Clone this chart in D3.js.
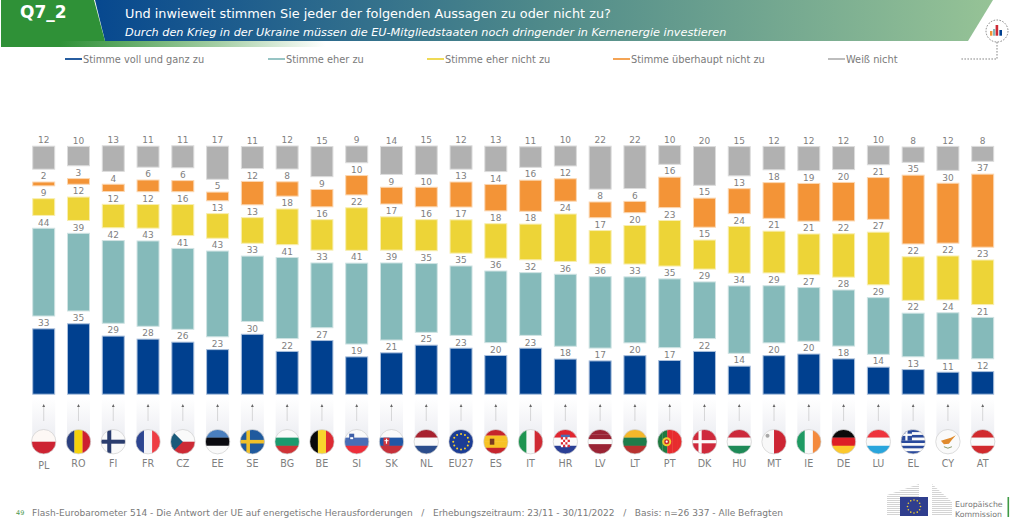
<!DOCTYPE html>
<html lang="de"><head><meta charset="utf-8">
<script src="https://cdn.jsdelivr.net/npm/d3@7/dist/d3.min.js"></script>
<style>
html,body{margin:0;padding:0;background:#fff;overflow:hidden}
svg{display:block}
text{font-family:"DejaVu Sans",Verdana,sans-serif}
</style></head><body><svg id="c" width="1024" height="522"></svg>
<script>
const categories=["PL","RO","FI","FR","CZ","EE","SE","BG","BE","SI","SK","NL","EU27","ES","IT","HR","LV","LT","PT","DK","HU","MT","IE","DE","LU","EL","CY","AT"];
const seriesNames=["Stimme voll und ganz zu","Stimme eher zu","Stimme eher nicht zu","Stimme überhaupt nicht zu","Weiß nicht"];
const seriesColors=["#00408f","#85baba","#edd437","#f39437","#b1b1b1"];
const seriesBorders=["#a9bfdc","#cfe3e3","#f8eeb0","#fbd7b2","#dcdcdc"];
const voll=[32.9,35.4,29.3,27.8,26.3,22.6,30.2,21.7,27.1,19.0,21.0,24.8,23.3,19.7,23.3,17.9,17.0,19.6,17.2,21.7,14.4,19.6,20.4,18.0,13.9,12.7,11.4,11.7];
const eher=[44.0,39.0,41.5,42.8,40.6,43.0,32.9,40.7,32.6,40.6,38.7,34.6,34.9,36.0,31.6,36.2,35.9,33.2,34.6,28.6,33.9,28.8,27.1,28.3,28.6,22.1,23.6,21.0];
const eherNicht=[8.8,12.1,12.1,12.2,15.9,12.7,13.2,18.2,15.6,21.6,17.0,15.9,17.0,17.6,18.2,24.0,17.0,19.6,23.1,14.9,23.6,21.2,20.7,22.0,26.6,22.1,22.3,22.6];
const ueberhaupt=[2.4,3.3,4.1,6.3,6.0,4.8,12.1,7.6,9.1,10.1,8.8,10.2,12.9,13.6,15.9,11.6,8.3,6.1,15.6,14.9,12.9,18.2,19.2,19.6,21.2,34.6,30.2,36.7];
const weissNicht=[11.9,10.1,13.2,10.9,11.4,16.9,11.4,11.9,15.4,8.8,14.4,14.6,12.1,13.1,10.7,10.4,21.8,21.7,9.8,19.7,15.0,12.1,12.4,11.9,9.9,8.1,12.4,7.9];
const title="Und inwieweit stimmen Sie jeder der folgenden Aussagen zu oder nicht zu?";
const subtitle="Durch den Krieg in der Ukraine müssen die EU-Mitgliedstaaten noch dringender in Kernenergie investieren";
const footer="Flash-Eurobarometer 514 - Die Antwort der UE auf energetische Herausforderungen   /   Erhebungszeitraum: 23/11 - 30/11/2022   /   Basis: n=26 337 - Alle Befragten";
const flagDesigns={
PL:["h",["#fdf8f5","#cd2332"]],RO:["v",["#2a3f7e","#f5d20c","#cd2030"]],FI:["h",["#fafafa"]],FR:["v",["#2d4591","#f4f4f8","#ee3d44"]],
CZ:["h",["#fafafa","#cd2a35"]],EE:["h",["#4a7fbf","#0a0a10","#fafafa"]],SE:["h",["#1f5a9e"]],BG:["h",["#fafafa","#1c9a6e","#cf3336"]],
BE:["v",["#0a0a0a","#f8d52d","#dd2a33"]],SI:["h",["#fafafa","#4a6db5","#ee2e3a"]],SK:["h",["#fafafa","#2157a5","#c6303a"]],NL:["h",["#a8222f","#fafafa","#2b4d8c"]],
EU27:["h",["#1c3d95"]],ES:["h",["#c6252c","#f7c325","#f7c325","#c6252c"]],IT:["v",["#1e9450","#f8f8f8","#cf2a33"]],HR:["h",["#e02530","#fafafa","#2a3f95"]],
LV:["h",["#9a2334","#9a2334","#fafafa","#9a2334","#9a2334"]],LT:["h",["#f3b72b","#1e7c4a","#b8322f"]],PT:["v",["#1f7a40","#1f7a40","#e72c2e","#e72c2e","#e72c2e"]],DK:["h",["#cf2a3c"]],
HU:["h",["#cc2a3c","#fafafa","#1e8a57"]],MT:["v",["#f8f8f8","#cd2533"]],IE:["v",["#1e9a62","#fafafa","#f48a3d"]],DE:["h",["#0a0a0a","#dd1f26","#fcc92c"]],
LU:["h",["#ee333d","#fafafa","#29a5dc"]],EL:["h",["#2a4a9c","#fafafa","#2a4a9c","#fafafa","#2a4a9c","#fafafa","#2a4a9c","#fafafa","#2a4a9c"]],CY:["h",["#fafafa"]],AT:["h",["#d12a2e","#fafafa","#d12a2e"]]};

const W=1024,H=522,svg=d3.select("#c");
const defs=svg.append("defs");
const lg=(id,stops,attrs)=>{const g=defs.append("linearGradient").attr("id",id);Object.entries(attrs||{}).forEach(([k,v])=>g.attr(k,v));
 stops.forEach(s=>g.append("stop").attr("offset",s[0]).attr("stop-color",s[1]).attr("stop-opacity",s[2]==null?1:s[2]));};
lg("hdr",[[0,"#07488f"],[0.5,"#4f8a8a"],[1,"#96c396"]]);
lg("strip",[[0,"#2f9137"],[0.2,"#55a45b"],[0.6,"#a5cfa5"],[1,"#ffffff"]]);
lg("col",[[0,"#ffffff"],[1,"#ecedf2"]],{x1:0,y1:0,x2:0,y2:1});

// header
svg.append("polygon").attr("points","95,0 993,0 968,41 105,41").attr("fill","url(#hdr)");
svg.append("polygon").attr("points","1,0 94,0 105,41 105,47 1,47").attr("fill","#2f9137");
svg.append("rect").attr("x",60).attr("y",41).attr("width",265).attr("height",6).attr("fill","url(#strip)");
svg.append("text").attr("x",20).attr("y",18).attr("fill","#fff").attr("font-weight","bold").attr("font-size",17).text("Q7_2");
svg.append("text").attr("x",125).attr("y",18).attr("fill","#fff").attr("font-size",12.85).attr("id","title").text(title);
svg.append("text").attr("x",125).attr("y",36).attr("fill","#fff").attr("font-size",11.25).attr("font-style","italic").attr("id","sub").text(subtitle);

// icon
const ic=svg.append("g");
ic.append("circle").attr("cx",997).attr("cy",31).attr("r",11).attr("fill","#fff").attr("stroke","#555").attr("stroke-width",.7).attr("stroke-dasharray","1.6 1.4");
ic.append("path").attr("d","M997 42V59H961").attr("fill","none").attr("stroke","#555").attr("stroke-width",.7).attr("stroke-dasharray","1.6 1.4");
[[990,31,2.4,4.7,"#f39437"],[993,29,2.2,6.7,"#85baba"],[995.6,25,2.6,10.7,"#cd2a35"],[999.4,30,2.6,5.7,"#00408f"]].forEach(b=>ic.append("rect").attr("x",b[0]).attr("y",b[1]).attr("width",b[2]).attr("height",b[3]).attr("fill",b[4]));

// legend
const legendX=[65,268,427,613,828];
const lgd=svg.append("g").selectAll("g").data(seriesNames).join("g").attr("transform",(d,i)=>`translate(${legendX[i]},59)`);
lgd.append("line").attr("x1",0).attr("x2",17).attr("stroke",(d,i)=>seriesColors[i]).attr("stroke-width",1.7);
lgd.append("text").attr("x",18).attr("y",3.5).attr("font-size",9.8).attr("fill","#7a7a7a").text(d=>d);

// scales
const x=d3.scaleBand().domain(categories).range([26.3,1000.1]).paddingInner(0.339).paddingOuter(0.17);
const base=394.7,unit=2.017,gap=11.83;
const y=d3.scaleLinear().domain([0,100]).range([base,base-100*unit]);
const rows=categories.map((c,i)=>({c,s0:voll[i],s1:eher[i],s2:eherNicht[i],s3:ueberhaupt[i],s4:weissNicht[i]}));
const stack=d3.stack().keys(["s0","s1","s2","s3","s4"])(rows);
const fmt=d3.format(".0f");
const layer=svg.append("g").selectAll("g").data(stack).join("g");
layer.selectAll("rect").data((s,si)=>s.map(d=>({d,si}))).join("rect")
 .attr("x",e=>x(e.d.data.c)+.5).attr("width",x.bandwidth()-1)
 .attr("y",e=>y(e.d[1])-gap*e.si+.5).attr("height",e=>y(e.d[0])-y(e.d[1])-1)
 .attr("fill",e=>seriesColors[e.si]).attr("stroke",e=>seriesBorders[e.si]).attr("stroke-width",1);
layer.selectAll("text").data((s,si)=>s.map(d=>({d,si}))).join("text")
 .attr("x",e=>x(e.d.data.c)+x.bandwidth()/2).attr("y",e=>y(e.d[1])-gap*e.si-2.2)
 .attr("text-anchor","middle").attr("font-size",9).attr("fill","#7f7f7f")
 .text(e=>fmt(e.d[1]-e.d[0]));

// columns, arrows
const cols=svg.append("g").selectAll("g").data(categories).join("g").attr("transform",d=>`translate(${x(d)+x.bandwidth()/2},0)`);
cols.append("rect").attr("x",-x.bandwidth()/2).attr("y",398).attr("width",x.bandwidth()).attr("height",40).attr("fill","url(#col)");
cols.append("line").attr("y1",407.5).attr("y2",420.5).attr("stroke","#8a8a8a").attr("stroke-width",.6).attr("stroke-dasharray","1 1");
cols.append("path").attr("d","M0 404L-1.4 407H1.4Z").attr("fill","#666");

// flags
const R=12.2,fy=441.7;
cols.each(function(c,i){
 const g=d3.select(this),id="cp"+i,[o,st]=flagDesigns[c];
 defs.append("clipPath").attr("id",id).append("circle").attr("cy",fy).attr("r",R);
 const f=g.append("g").attr("clip-path",`url(#${id})`);
 const n=st.length,s=2*R/n;
 st.forEach((col,k)=>{ if(o==="h") f.append("rect").attr("x",-R).attr("y",fy-R+k*s).attr("width",2*R).attr("height",s+.2).attr("fill",col);
   else f.append("rect").attr("x",-R+k*s).attr("y",fy-R).attr("width",s+.2).attr("height",2*R).attr("fill",col);});
 const rect=(a,b,w,h,col)=>f.append("rect").attr("x",a).attr("y",fy+b).attr("width",w).attr("height",h).attr("fill",col);
 if(c==="FI"){rect(-R,-2,2*R,4,"#2b3d6e");rect(-6,-R,4,2*R,"#2b3d6e");}
 if(c==="SE"){rect(-R,-1.8,2*R,3.6,"#f0c02a");rect(-6,-R,3.6,2*R,"#f0c02a");}
 if(c==="DK"){rect(-R,-1.6,2*R,3.2,"#fafafa");rect(-6,-R,3.2,2*R,"#fafafa");}
 if(c==="CZ")f.append("path").attr("d",`M-12.2 ${fy-12.2}L0 ${fy}L-12.2 ${fy+12.2}Z`).attr("fill","#1a5a7a");
 if(c==="EL"){rect(-R,-R,11,11,"#2a4a9c");rect(-R,-8,11,2.2,"#fafafa");rect(-7.8,-R,2.2,11,"#fafafa");}
 if(c==="SI"){rect(-7.5,-8,5,6,"#3f5fa8");rect(-6.5,-4.5,3,2,"#fff");}
 if(c==="SK"){rect(-8,-4,6,8,"#d0343c");rect(-5.6,-3,1.2,5,"#fff");rect(-7,-1.5,4,1,"#fff");}
 if(c==="ES"){rect(-6,-3,4.5,6,"#7a3b20");}
 if(c==="PT"){f.append("circle").attr("cx",-3).attr("cy",fy).attr("r",4.5).attr("fill","#f3c92f");f.append("circle").attr("cx",-3).attr("cy",fy).attr("r",2.5).attr("fill","#c9282d");f.append("circle").attr("cx",-3).attr("cy",fy).attr("r",1.1).attr("fill","#fff");}
 if(c==="HR"){rect(-4.5,-7,9,2.5,"#4a6db5");d3.range(4).forEach(a=>d3.range(4).forEach(b=>rect(-4.5+a*2.25,-4.5+b*2.5,2.25,2.5,(a+b)%2?"#fff":"#dd2a33")));}
 if(c==="MT"){f.append("circle").attr("cx",-6.5).attr("cy",fy-6).attr("r",2).attr("fill","#a8a8a8");}
 if(c==="CY"){f.append("path").attr("d",`M-7 ${fy-1}L-2 ${fy-2.5}L3 ${fy-4}L8 ${fy-6.5}L4 ${fy-2}L1 ${fy+2}L-4 ${fy+2.5}Z`).attr("fill","#e08a2c");f.append("path").attr("d",`M-4 ${fy+5}Q0 ${fy+8} 4 ${fy+5}`).attr("fill","none").attr("stroke","#8a9a6a").attr("stroke-width",1);}
 if(c==="EU27"){d3.range(12).forEach(a=>{const t=a*Math.PI/6;f.append("circle").attr("cx",7.8*Math.cos(t)).attr("cy",fy+7.8*Math.sin(t)).attr("r",1).attr("fill","#f6d02a");});}
 g.append("circle").attr("cy",fy).attr("r",R).attr("fill","none").attr("stroke","#cfcfcf").attr("stroke-width",.7);
});

// category axis
const axis=svg.append("g").attr("transform","translate(0,457)").call(d3.axisBottom(x).tickSize(0).tickPadding(3));
axis.select(".domain").remove();
axis.selectAll("text").attr("font-size",9.6).attr("fill","#7f7f7f").style("font-family",'"DejaVu Sans",sans-serif').attr("dy",d=>d==="PL"?"0.9em":"0.71em");

// footer
svg.append("text").attr("x",16).attr("y",515).attr("font-size",6.5).attr("fill","#4f9a50").text("49");
svg.append("text").attr("x",32).attr("y",516).attr("font-size",9.05).attr("fill","#7a7a7a").style("white-space","pre").attr("id","foot").text(footer);

// logo
const logo=svg.append("g");
const bl=defs.append("pattern").attr("id","ln").attr("width",4).attr("height",2).attr("patternUnits","userSpaceOnUse");
bl.append("rect").attr("width",4).attr("height",1).attr("fill","#d4d4d4");
logo.append("polygon").attr("points","887,495 919,484 919,516 887,516").attr("fill","url(#ln)");
logo.append("polygon").attr("points","932,484 952,502 952,516 932,516").attr("fill","url(#ln)");
logo.append("rect").attr("x",900).attr("y",497).attr("width",28).attr("height",19).attr("fill","#2f3e8e");
d3.range(12).forEach(a=>{const t=a*Math.PI/6;logo.append("circle").attr("cx",914+6.5*Math.cos(t)).attr("cy",506.5+6.5*Math.sin(t)).attr("r",.8).attr("fill","#f3d02f");});
logo.append("text").attr("x",955).attr("y",507).attr("font-size",7.8).attr("fill","#777").text("Europäische");
logo.append("text").attr("x",955).attr("y",516.5).attr("font-size",7.8).attr("fill","#777").text("Kommission");
logo.append("rect").attr("x",1007.5).attr("y",497).attr("width",1.6).attr("height",20).attr("fill","#3f9a45");
</script></body></html>
